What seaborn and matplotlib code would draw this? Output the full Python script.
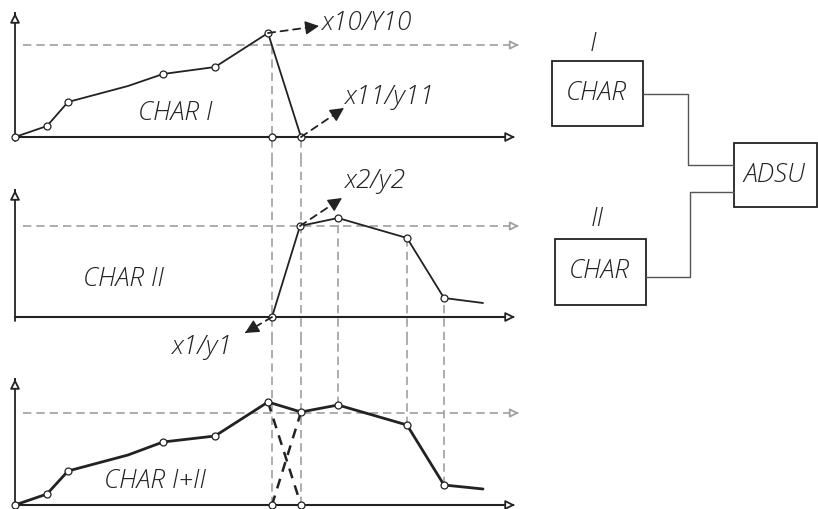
import matplotlib
matplotlib.use("Agg")
import matplotlib.pyplot as plt
import seaborn as sns
from matplotlib.patches import Rectangle

sns.set_style("white")
plt.rcParams['font.family'] = ['Open Sans', 'DejaVu Sans']

# Data (x in tenths of the drawing width, y in curve units)
x_char1 = [0, 3.2, 5.3, 11.3, 14.8, 20.0, 25.3, 28.6]
y_char1 = [0, 11, 35, 51, 63, 70, 104, 0]
marks_char1 = [0, 1, 2, 4, 5, 6, 7]

x_char2 = [25.7, 28.5, 32.3, 39.2, 42.9, 46.8]
y_char2 = [0, 91, 99, 79, 19, 14]
marks_char2 = [0, 1, 2, 3, 4]

x_sum = [0, 3.2, 5.3, 11.3, 14.8, 20.0, 25.3, 28.6, 32.3, 39.2, 42.9, 46.8]
y_sum = [0, 11, 34, 50, 63, 69, 103, 93, 100, 80, 20, 16]
marks_sum = [0, 1, 2, 4, 5, 6, 7, 8, 9, 10]

threshold = [92, 91, 92]
x_cross = [25.7, 28.6]

W, H = 818, 509
fig = plt.figure(figsize=(W / 100, H / 100), dpi=100)

def panel(top, bottom, axis_px):
    ax = fig.add_axes([0, 1 - bottom / H, 530 / W, (bottom - top) / H])
    ax.set_xlim(-1.5, 51.5)
    ax.set_ylim(-(bottom - axis_px), axis_px - top)
    ax.axis('off')
    return ax

txt = dict(style='italic', weight='light', fontsize=19, color='#222222')
dash_grey = dict(color='#a0a0a0', lw=1.2, ls=(0, (5, 3)))

def frame(ax, ytop, thr):
    ax.plot([0, 0], [-4, ytop - 2], color='#222222', lw=1.3)
    ax.annotate('', xy=(0, ytop), xytext=(0, ytop - 3),
                arrowprops=dict(arrowstyle='-|>', fc='white', ec='#222222', lw=1.3, mutation_scale=14))
    ax.plot([0, 49.3], [0, 0], color='#222222', lw=1.5)
    ax.annotate('', xy=(50.0, 0), xytext=(49.5, 0),
                arrowprops=dict(arrowstyle='-|>', fc='white', ec='#222222', lw=1.3, mutation_scale=14))
    ax.plot([0.8, 49.6], [thr, thr], **dash_grey)
    ax.annotate('', xy=(50.4, thr), xytext=(49.9, thr),
                arrowprops=dict(arrowstyle='-|>', fc='white', ec='#a0a0a0', lw=1.3, mutation_scale=13))

def curve(ax, xs, ys, marks, lw):
    sns.lineplot(x=xs, y=ys, ax=ax, sort=False, estimator=None, color='#222222', lw=lw,
                 marker='o', markevery=marks, markersize=5, markerfacecolor='white',
                 markeredgecolor='#222222', markeredgewidth=0.9)

def dashed_arrow(ax, start, tip, text, text_xy, ha='left'):
    ax.annotate('', xy=tip, xytext=start,
                arrowprops=dict(arrowstyle='-', color='#222222', lw=1.3, ls=(0, (4, 3)),
                                shrinkA=0, shrinkB=7))
    dx, dy = tip[0] - start[0], tip[1] - start[1]
    ax.annotate('', xy=tip, xytext=(tip[0] - dx * 0.05, tip[1] - dy * 0.05),
                arrowprops=dict(arrowstyle='-|>', color='#222222', lw=1, mutation_scale=21,
                                shrinkA=0, shrinkB=0))
    ax.text(text_xy[0], text_xy[1], text, ha=ha, va='center', **txt)

# CHAR I
ax1 = panel(0, 160, 137)
frame(ax1, 124, threshold[0])
ax1.vlines(x_cross[0], -24, threshold[0], **dash_grey)
ax1.vlines(x_cross[1], -24, 0, **dash_grey)
curve(ax1, x_char1, y_char1, marks_char1, 1.3)
ax1.plot([x_cross[0]], [0], 'o', ms=5, mfc='white', mec='#222222', mew=0.9)
ax1.text(16.0, 23, 'CHAR I', ha='center', va='center', **txt)
dashed_arrow(ax1, (x_char1[6], y_char1[6]), (30.4, 111), 'x10/Y10', (30.7, 114))
dashed_arrow(ax1, (x_char1[7], y_char1[7]), (32.9, 29), 'x11/y11', (33.0, 39))

# CHAR II
ax2 = panel(160, 340, 317)
frame(ax2, 127, threshold[1])
for xv in x_cross:
    ax2.vlines(xv, -23, 157, **dash_grey)
for xv, yv in zip(x_char2[2:5], y_char2[2:5]):
    ax2.vlines(xv, -23, yv, **dash_grey)
curve(ax2, x_char2, y_char2, marks_char2, 1.3)
ax2.text(10.8, 37, 'CHAR II', ha='center', va='center', **txt)
dashed_arrow(ax2, (x_char2[1], y_char2[1]), (32.7, 119), 'x2/y2', (33.0, 135))
dashed_arrow(ax2, (x_char2[0], y_char2[0]), (23.0, -16), 'x1/y1', (15.7, -31))

# CHAR I+II
ax3 = panel(340, 509, 505)
frame(ax3, 126, threshold[2])
for xv in x_cross:
    ax3.vlines(xv, 0, 165, **dash_grey)
for xv, yv in zip(x_sum[8:11], y_sum[8:11]):
    ax3.vlines(xv, yv, 165, **dash_grey)
ax3.plot([x_sum[6], x_cross[1]], [y_sum[6], 0], color='#222222', lw=1.8, ls=(0, (4, 3)))
ax3.plot([x_sum[7], x_cross[0]], [y_sum[7], 0], color='#222222', lw=1.8, ls=(0, (4, 3)))
curve(ax3, x_sum, y_sum, marks_sum, 2.0)
ax3.plot(x_cross, [0, 0], 'o', ls='none', ms=5, mfc='white', mec='#222222', mew=0.9)
ax3.text(14.0, 23, 'CHAR I+II', ha='center', va='center', **txt)

# block diagram
axd = fig.add_axes([0, 0, 1, 1])
axd.set_xlim(0, W)
axd.set_ylim(H, 0)
axd.axis('off')
boxes = [(552, 61, 91, 65, 'CHAR'), (555, 239, 91, 66, 'CHAR'), (734, 143, 83, 64, 'ADSU')]
for bx, by, bw, bh, label in boxes:
    axd.add_patch(Rectangle((bx, by), bw, bh, fill=False, ec='#222222', lw=1.3))
    axd.text(bx + bw / 2 - 1, by + bh / 2, label, ha='center', va='center', **txt)
axd.text(593, 44, 'I', ha='center', va='center', **txt)
axd.text(597, 219, 'II', ha='center', va='center', **txt)
axd.plot([643, 688, 688, 734], [94, 94, 165, 165], color='#555555', lw=1.0)
axd.plot([646, 690, 690, 734], [277, 277, 192, 192], color='#555555', lw=1.0)

fig.savefig('out.png', dpi=100)
